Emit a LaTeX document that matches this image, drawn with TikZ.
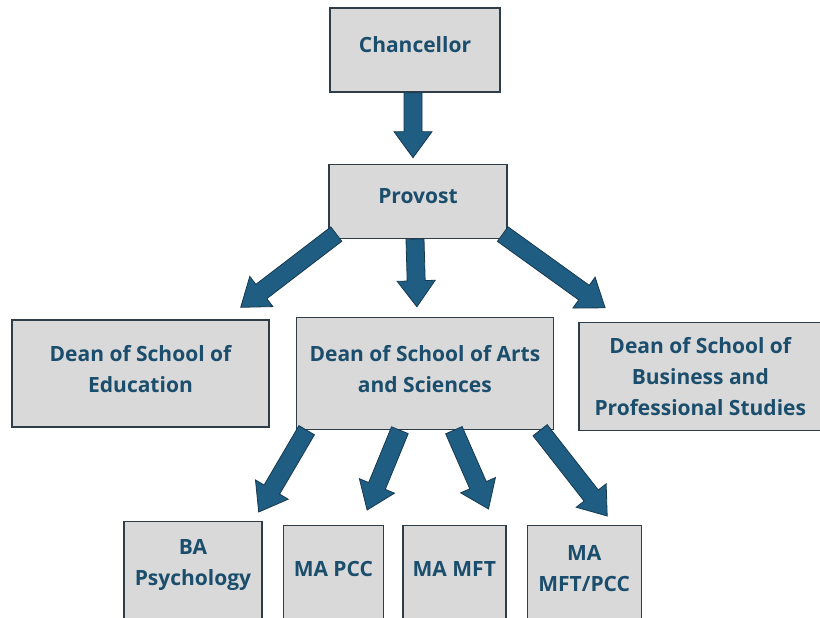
\documentclass[tikz,border=0pt]{standalone}
\usepackage{fontspec}
\setmainfont{Open Sans}
\usetikzlibrary{positioning,calc}

\definecolor{boxgray}{HTML}{D9D9D9}
\definecolor{boxline}{HTML}{2F3D48}
\definecolor{textblue}{HTML}{1B4D6C}
\definecolor{arrowblue}{HTML}{1F5D82}
\definecolor{arrowline}{HTML}{173A50}

\newcommand{\flowarrow}[2]{%
  \coordinate (fa) at (#1);
  \coordinate (fb) at (#2);
  \coordinate (fh) at ($(fb)!26pt!(fa)$);
  \filldraw[arrowstyle] ($(fa)!9pt!90:(fb)$) -- ($(fh)!9pt!90:(fb)$)
    -- ($(fh)!19pt!90:(fb)$) -- (fb) -- ($(fh)!19pt!-90:(fb)$)
    -- ($(fh)!9pt!-90:(fb)$) -- ($(fa)!9pt!-90:(fb)$) -- cycle;
}

\begin{document}
\begin{tikzpicture}[
  x=1pt, y=-1pt,
  orgbox/.style={
        draw=boxline,
        line width=1.4pt,
        fill=boxgray,
        text=textblue,
        font=\bfseries\fontsize{21}{31}\selectfont,
        align=center,
        inner sep=0pt
  },
  lowbox/.style={
        orgbox,
        anchor=north,
        minimum height=120pt
  },
  lowtext/.style={
        anchor=center,
        yshift=-44pt,
        align=center,
        text=textblue,
        font=\bfseries\fontsize{21}{31}\selectfont
  },
  arrowstyle/.style={
        fill=arrowblue,
        draw=arrowline,
        line width=0.8pt,
        line join=miter
  }
]

    \useasboundingbox (0,0) rectangle (820,618);
    \clip (0,0) rectangle (820,618);

    \node[orgbox, minimum width=170pt, minimum height=84pt] (chan) at (415,50) {Chancellor\\[-21pt]};
    \node[orgbox, minimum width=178pt, minimum height=74pt, below=71pt of chan, xshift=3pt] (prov) {Provost\\[-21pt]};

    \node[orgbox, minimum width=257pt, minimum height=107pt] (ded) at (140.5,373.5) {Dean of School of\\Education\\[-21pt]};
    \node[orgbox, minimum width=257pt, minimum height=112pt, right=26pt of ded] (darts) {Dean of School of Arts\\and Sciences\\[-21pt]};
    \node[orgbox, minimum width=243pt, minimum height=108pt, right=24pt of darts, yshift=-3pt] (dbus) {Dean of School of\\Business and\\Professional Studies};

    \node[lowbox, minimum width=138pt, label={[lowtext]north:{BA\\Psychology}}] (ba) at (193,521) {};
    \node[lowbox, minimum width=100pt, right=20pt of ba, yshift=-4pt, label={[lowtext]north:{MA PCC}}] (pcc) {};
    \node[lowbox, minimum width=103pt, right=18pt of pcc, label={[lowtext]north:{MA MFT}}] (mft) {};
    \node[lowbox, minimum width=114pt, right=20pt of mft, label={[lowtext]north:{MA\\MFT/PCC}}] (mftpcc) {};

    \flowarrow{$(chan.south)+(-2,0)$}{$(prov.north)+(-5,-6)$}
    \flowarrow{$(prov.south west)+(8,-5)$}{$(ded.north east)+(-29,-12)$}
    \flowarrow{$(prov.south)+(-3,0)$}{$(darts.north)+(-8,-10)$}
    \flowarrow{$(prov.south east)+(-5,-5)$}{$(dbus.north west)+(27,-14)$}

    \flowarrow{$(darts.south west)+(11,0)$}{$(ba.north east)+(-4,-9)$}
    \flowarrow{$(darts.south)+(-25,0)$}{$(pcc.north east)+(-17,-15)$}
    \flowarrow{$(darts.south)+(29,0)$}{$(mft.north east)+(-18,-16)$}
    \flowarrow{$(darts.south east)+(-14,0)$}{$(mftpcc.north)+(23,-9)$}
\end{tikzpicture}
\end{document}
